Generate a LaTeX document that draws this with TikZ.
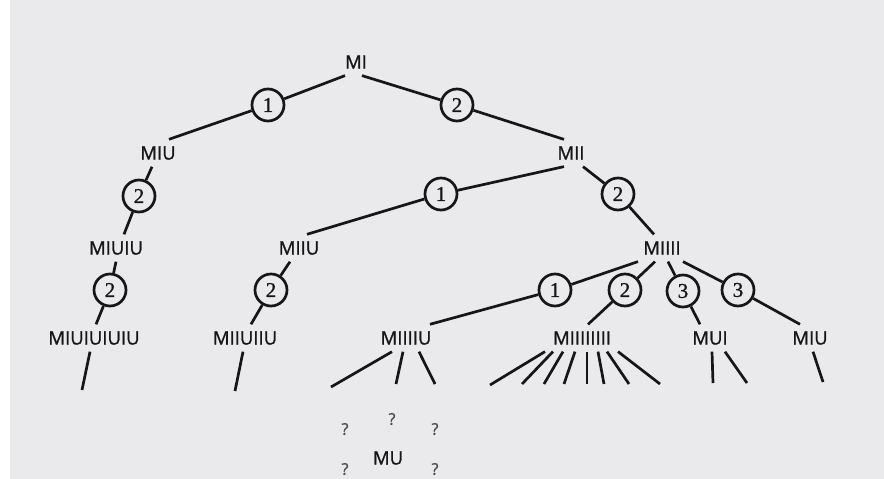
\documentclass[tikz,border=0pt]{standalone}
\usepackage{fontspec}
\newfontfamily\wordfont{Open Sans}[FakeBold=1.2]
\newfontfamily\rulefont{Liberation Serif}[FakeBold=1]
\definecolor{paper}{RGB}{234,234,236}
\definecolor{ink}{RGB}{22,22,22}

\begin{document}
\begin{tikzpicture}[x=1pt,y=-1pt,
  word/.style={font=\wordfont\fontsize{18.5}{18.5}\selectfont, text=ink, inner sep=0pt, outer sep=7pt},
  rulemark/.style={circle, draw=ink, line width=2.7pt, minimum size=32pt, inner sep=0pt,
    font=\rulefont\fontsize{21}{21}\selectfont, text=ink},
  branch/.style={line width=2.7pt, draw=ink},
  query/.style={font=\wordfont\fontsize{16}{16}\selectfont, text=black!70, inner sep=0pt}]
\useasboundingbox (0,0) rectangle (884,479);
\clip (0,0) rectangle (884,479);
\fill[paper] (0,0) rectangle (884,479);
\fill[white] (0,0) rectangle (10,479);

\node[word] (MI) at (356,62) {MI};
\node[word] (MIU) at (158,153) {MIU};
\node[word] (MII) at (571,153) {MII};
\node[word] (MIUIU) at (116,248) {MIUIU};
\node[word] (MIIU) at (299,248) {MIIU};
\node[word] (MIIII) at (662,248) {MIIII};
\node[word] (MIUIUIUIU) at (94,338) {MIUIUIUIU};
\node[word] (MIIUIIU) at (245,338) {MIIUIIU};
\node[word] (MIIIIU) at (406,338) {MIIIIU};
\node[word] (MIIIIIIII) at (582,338) {MIIIIIIII};
\node[word] (MUI) at (710,338) {MUI};
\node[word] (MIUb) at (810,338) {MIU};
\node[word] (MU) at (388,458) {MU};

\node[rulemark] (MI1) at (268,105) {1};
\node[rulemark] (MI2) at (457,105) {2};
\node[rulemark] (MIU2) at (139,196) {2};
\node[rulemark] (MII1) at (441,194) {1};
\node[rulemark] (MII2) at (618,194) {2};
\node[rulemark] (MIUIU2) at (110,290) {2};
\node[rulemark] (MIIU2) at (271,290) {2};
\node[rulemark] (MIIII1) at (555,290) {1};
\node[rulemark] (MIIII2) at (625,290) {2};
\node[rulemark] (MIIII3a) at (683,291) {3};
\node[rulemark] (MIIII3b) at (738,290) {3};

\foreach \from/\a/\via/\to/\b in {MI/-11/MI1/MIU/11, MI/6/MI2/MII/-7,
    MIU/-6/MIU2/MIUIU/8, MII/-7/MII1/MIIU/8, MII/12/MII2/MIIII/-8,
    MIUIU/0/MIUIU2/MIUIUIUIU/2, MIIU/-9/MIIU2/MIIUIIU/6,
    MIIII/-24/MIIII1/MIIIIU/24, MIIII/-7/MIIII2/MIIIIIIII/6,
    MIIII/6/MIIII3a/MUI/-10, MIIII/21/MIIII3b/MIUb/-10}
  \draw[branch] ([xshift=\a pt]\from.south) -- (\via) -- ([xshift=\b pt]\to.north);

\foreach \from/\a/\x/\y [count=\n] in {MIUIUIUIU/-4/82/390, MIIUIIU/-2/235/391,
    MIIIIU/-14/331/387, MIIIIU/-3/396/384, MIIIIU/13/435/384,
    MIIIIIIII/-37/490/385, MIIIIIIII/-29/522/384, MIIIIIIII/-19/544/384,
    MIIIIIIII/-7/564/384, MIIIIIIII/5/587/384, MIIIIIIII/16/604/384,
    MIIIIIIII/25/629/384, MIIIIIIII/36/660/384,
    MUI/2/713/383, MUI/15/747/383, MIUb/3/823/382}
  {\coordinate (end\n) at (\x,\y);
   \draw[branch] ([xshift=\a pt]\from.south) -- (end\n);}

\node[query] (q1) at (345,429) {?};
\node[query] (q2) at (392,419) {?};
\node[query] (q3) at (435,429) {?};
\node[query] (q4) at (345,469) {?};
\node[query] (q5) at (435,469) {?};
\end{tikzpicture}
\end{document}
